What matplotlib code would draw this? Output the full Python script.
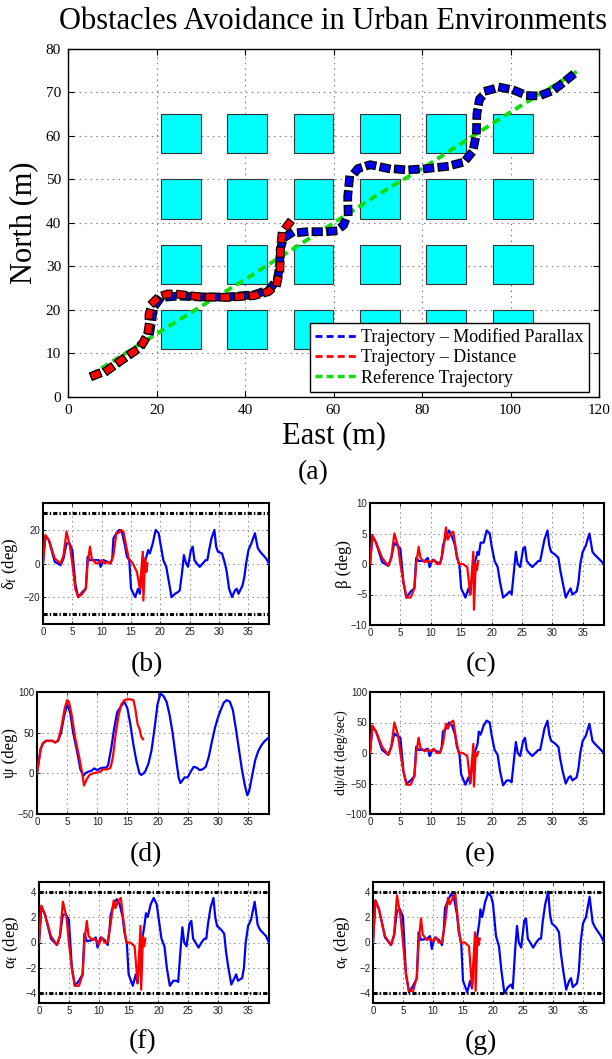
import numpy as np
import matplotlib
matplotlib.use('Agg')
import matplotlib.pyplot as plt
from matplotlib.patches import Rectangle
from matplotlib.lines import Line2D
from matplotlib import patheffects as pe

plt.rcParams['lines.scale_dashes'] = False
plt.rcParams['font.family'] = 'Liberation Serif'
plt.rcParams['mathtext.fontset'] = 'custom'
plt.rcParams['mathtext.rm'] = 'Liberation Serif'
plt.rcParams['mathtext.it'] = 'Liberation Serif:italic'

SERIF = 'Liberation Serif'
SANS = 'Liberation Sans'

# ---- obstacle grid (m) ----
obs_east = [21, 36, 51, 66, 81, 96]
obs_north = [11, 26, 41, 56]
obs_size = 9

# ---- trajectories (east, north) ----
ref_east = [5, 20, 30, 40, 50, 60, 70, 80, 90, 100, 115]
ref_north = [5, 14.5, 20.8, 27, 33.5, 40, 46.5, 52.5, 59, 65.5, 74.8]

mp_east = [6, 9, 12, 15, 17, 18.5, 19, 19.3, 20.5, 22.5, 25, 30, 36, 42, 45.5, 47.3, 47.8, 48,
           48.7, 50.3, 54, 58.5, 60.5, 62.3, 63.3, 63.2, 63.6, 65.5, 68.3, 72, 76.6, 81, 85.6,
           89.5, 91.5, 92.3, 92.4, 93, 95, 97.6, 100.6, 103.7, 106.5, 109.5, 112, 114]
mp_north = [5, 6.2, 8.4, 10.5, 12.5, 15, 18, 20.5, 22.2, 23, 23.2, 23, 23, 23.5, 24.7, 27, 30, 34,
            36.5, 37.6, 38, 38, 38.2, 39.5, 42.5, 46, 50, 52.5, 53.4, 52.6, 52.2, 52.5, 53,
            54, 56.5, 60.5, 65, 68.5, 70.5, 71.2, 70.6, 69.3, 69.2, 70.4, 72.3, 74]

dist_east = [6, 9, 12, 15, 16.8, 18, 18.3, 18.3, 19, 20.5, 22.5, 25, 30, 36, 42, 45.3, 47.2, 47.9,
             48, 48.3, 49.3, 51]
dist_north = [5, 6.2, 8.4, 10.5, 12.2, 14.5, 16.5, 19, 21.5, 23, 23.7, 23.6, 23, 22.9, 23.3, 24.2,
              26, 29.5, 34, 37, 39, 41.3]

# ---- time histories: Modified Parallax (blue) ----
t_mp = [0, 0.4, 1, 2, 3, 3.5, 4, 4.5, 5, 5.5,
        6, 6.7, 7.3, 7.6, 8, 9, 9.5, 9.8, 10.3, 11,
        11.5, 11.8, 12, 12.5, 13, 13.5, 14, 14.3, 14.7, 15,
        15.7, 16.2, 16.5, 16.7, 17.2, 17.7, 17.9, 18.2, 18.7, 19.2,
        19.7, 20, 20.5, 21, 21.4, 21.9, 22.5, 23, 23.3, 23.7,
        24, 24.3, 24.7, 25.2, 25.5, 25.8, 26.2, 26.7, 27.2, 27.7,
        28, 28.3, 28.7, 29.2, 29.5, 29.8, 30.5, 31, 31.3, 31.7,
        32.2, 32.7, 33, 33.3, 34, 34.3, 34.6, 35, 35.5, 36.1,
        36.6, 37, 38, 38.5]
delta_mp = [0, 16, 14, 1, -1, 3, 12, 12, 8, -12,
            -20, -17, -15, 4, 2, 2, 2, -2, 2, 1,
            0, 3, 15, 18, 20, 18, 10, 4, 2, -15,
            -20, -15, -18, -10, 0, 5, 8, 6, 12, 20,
            18, 12, 2, -2, -10, -20, -18, -17, -16, -5,
            5, 1, -2, 8, 10, 2, 0, -2, 0, 2,
            2, 8, 15, 20, 10, 7, 6, 0, -5, -15,
            -20, -16, -15, -18, -13, -8, 0, 8, 12, 18,
            9, 7, 3, 0]
beta_mp = [0, 4.5, 3.5, 0.3, -0.3, 1, 3.5, 3, 2.5, -3,
           -5.5, -4.5, -4, 1, 0.5, 0.5, 1, -0.5, 0.7, 0.3,
           0, 1, 3, 4.5, 5.5, 4.5, 3, 1, 0, -4,
           -5.5, -4, -5, -3, 0, 2, 1.5, 3.5, 3.5, 5.5,
           5, 3, 0.5, -0.5, -3, -5.5, -5, -4.5, -5, -1,
           2, 0, -0.5, 2.5, 2.8, 0.5, 0, -0.5, 0, 0.5,
           0.5, 2, 4, 5.5, 3, 2, 1.5, 1, -1, -3,
           -5.5, -4.5, -4, -5, -4.5, -3, 0, 2, 3, 5,
           2, 1.5, 0.5, 0]
rate_mp = [0, 43, 35, 5, -3, 10, 32, 28, 25, -30,
           -50, -45, -38, 10, 5, 5, 7, -5, 5, 3,
           0, 10, 35, 40, 50, 45, 30, 10, 0, -35,
           -52, -40, -50, -30, 0, 15, 35, 30, 45, 53,
           50, 30, 5, -3, -30, -53, -45, -45, -48, -10,
           18, 0, -5, 20, 25, 5, 0, -5, 0, 5,
           5, 20, 40, 53, 30, 20, 15, 10, -10, -30,
           -50, -40, -38, -45, -40, -25, 0, 20, 28, 48,
           20, 15, 5, 0]
alf_mp = [0, 2.8, 2.2, 0.3, -0.2, 0.5, 2.2, 2.2, 1.8, -2,
          -3.4, -3, -2.5, 0.7, 0.1, 0.2, 0.4, -0.4, 0.4, 0.2,
          -0.2, 1, 2.2, 3, 3.4, 3, 2, 0.8, 0, -2.5,
          -3.4, -2.5, -3.2, -2, 0, 1.5, 2.3, 2, 3, 3.5,
          3, 2, 0.3, -0.3, -2, -3.4, -3, -3, -3.1, -0.5,
          1.2, 0, -0.3, 1.5, 1.7, 0.3, 0, -0.4, 0, 0.3,
          0.3, 1.5, 2.7, 3.5, 2, 1.3, 1, 0.7, -0.7, -2,
          -3.3, -2.8, -2.5, -3, -2.8, -2, 0, 1.3, 1.8, 3.2,
          1.4, 1, 0.5, 0]
alr_mp = [0, 3.3, 2.6, 0.4, -0.2, 0.5, 2.5, 2.6, 2, -2.5,
          -3.9, -3.4, -2.8, 0.8, 0.2, 0.3, 0.5, -0.5, 0.4, 0.2,
          -0.2, 1, 2.7, 3.3, 3.8, 3.5, 2.2, 0.8, 0, -3,
          -3.9, -3, -3.6, -2, 0, 1.5, 2.6, 2, 3.2, 3.9,
          3.6, 3, 0.5, -0.3, -2.2, -4, -3.5, -3.3, -3.6, -0.5,
          1.3, 0, -0.4, 1.7, 1.9, 0.3, 0, -0.4, 0, 0.3,
          0.3, 1.7, 3, 4, 2.2, 1.5, 1.2, 0.8, -0.8, -2.2,
          -3.7, -3, -2.8, -3.5, -3.2, -2.3, 0, 1.5, 2, 3.6,
          1.6, 1.2, 0.5, 0]

t_psi_mp = [0, 0.6, 1, 1.5, 2.5, 3, 3.5, 4, 4.5, 5,
            5.5, 6, 6.7, 7.2, 7.7, 8, 8.5, 9, 9.5, 10,
            10.5, 11, 11.5, 11.8, 12.3, 12.8, 13.3, 14, 14.5, 15,
            15.5, 16, 16.5, 17, 17.3, 17.7, 18, 18.5, 19, 19.5,
            20, 20.5, 21, 21.5, 22, 22.5, 23, 23.5, 23.8, 24.2,
            24.5, 25, 25.5, 26, 26.5, 27, 27.5, 28, 28.5, 29,
            29.5, 30, 30.5, 31, 31.5, 32, 32.5, 33, 33.5, 34,
            34.5, 34.9, 35.2, 35.7, 36.2, 36.7, 37.2, 37.7, 38.3, 38.5]
psi_mp = [0, 30, 37, 40, 40, 38, 40, 50, 70, 85,
          75, 50, 25, 5, -3, 0, 2, 3, 6, 4,
          6, 7, 7, 10, 30, 55, 75, 83, 88, 80,
          60, 35, 15, 0, -2, 0, 3, 12, 28, 55,
          85, 98, 95, 88, 72, 50, 22, -5, -12, -8,
          -5, -5, 2, 8, 7, 4, 5, 8, 20, 38,
          55, 68, 78, 87, 90, 88, 78, 55, 30, 5,
          -15, -27, -22, -3, 16, 27, 34, 39, 43, 44]

# ---- time histories: Distance (red) ----
t_d = [0, 0.4, 1, 2, 3, 3.5, 4, 4.6, 5, 5.5,
       6, 6.7, 7.3, 7.6, 8, 8.3, 9, 9.5, 10, 10.5,
       11, 11.5, 12, 12.5, 12.8, 13.3, 13.7, 14.2, 14.6, 15.3,
       16, 16.5, 17, 17.1, 17.4, 17.6, 17.8]
delta_d = [0, 17, 14, 3, 0, 5, 19, 10, 0, -15,
           -20, -18, -15, 0, 10, 3, 0, 0.5, 2, 0,
           1, 0, 5, 18, 18, 20, 19, 10, 3, 0,
           -5, -15, 7, -22, 3, -5, 0]
beta_d = [0, 4.7, 3.5, 1, -0.3, 1, 5, 3, 0, -3,
          -5.5, -5.5, -4, 0, 2.8, 1, 0.3, 0.5, 0.3, 0.7,
          0, 0, 2, 6, 4, 5, 5.3, 2, 0, 0,
          -0.5, -5, 2, -7.5, 0, -1, 0.5]
rate_d = [0, 45, 35, 10, -3, 10, 50, 30, 0, -30,
          -52, -52, -38, 0, 25, 8, 3, 5, 3, 7,
          0, 0, 15, 48, 40, 50, 53, 20, 0, 0,
          -5, -48, 15, -55, 0, -5, 2]
alf_d = [0, 2.9, 2.2, 0.5, -0.2, 0.5, 3.2, 2, 0, -2,
         -3.4, -3.4, -2.5, 0, 1.7, 0.5, 0.2, 0.3, -0.2, 0.4,
         0, 0, 1.5, 3.3, 2.7, 3.3, 3.5, 1.5, 0, 0,
         -0.3, -3.2, 1.3, -3.7, 0.5, -0.3, 0.3]
alr_d = [0, 3.3, 2.6, 0.5, -0.2, 0.6, 3.7, 2, 0, -2.5,
         -3.8, -3.8, -2.7, 0, 1.9, 0.6, 0.2, 0.3, 0.1, 0.4,
         0, 0, 1.5, 3.5, 3, 3.5, 3.9, 1.5, 0, 0,
         -0.3, -3.5, 0.8, -3.8, 0.4, -0.2, 0.3]

t_psi_d = [0, 0.6, 1, 1.5, 2.5, 3, 3.5, 4, 4.6, 5,
           5.3, 5.8, 6.3, 7, 7.5, 7.8, 8.2, 8.7, 9.3, 10,
           10.5, 11, 11.8, 12.2, 12.6, 13, 13.5, 14, 14.5, 15,
           15.5, 16, 16.3, 16.7, 17, 17.3, 17.6]
psi_d = [0, 30, 37, 40, 40, 38, 40, 55, 80, 90,
         88, 70, 45, 20, 0, -15, -8, -2, 0, 1,
         2, 5, 5, 7, 20, 45, 70, 85, 90, 91,
         91, 90, 80, 60, 55, 45, 42]

delta_limit = 30
alpha_limit = 4

W, H = 612, 1059


def px_rect(left, top, right, bottom):
    return [left / W, 1 - bottom / H, (right - left) / W, (bottom - top) / H]


fig = plt.figure(figsize=(W / 100, H / 100), dpi=100)

# ================= (a) trajectories =================
ax = fig.add_axes(px_rect(68, 49, 599, 397))
for e in obs_east:
    for n in obs_north:
        ax.add_patch(Rectangle((e, n), obs_size, obs_size, facecolor='cyan',
                               edgecolor='#333333', lw=0.8, zorder=2))

ax.plot(ref_east, ref_north, color='#11dd11', lw=2.8, ls=(0, (6, 3.5)), zorder=3)
outline = [pe.Stroke(linewidth=6.3, foreground='black', capstyle='projecting'), pe.Normal()]
ax.plot(mp_east, mp_north, color='#0000ee', lw=4.6, ls=(0, (1.8, 8.7)),
        dash_capstyle='projecting', path_effects=outline, zorder=4)
ax.plot(dist_east, dist_north, color='#ff0000', lw=4.6, ls=(0, (1.8, 8.7)),
        dash_capstyle='projecting', path_effects=outline, zorder=5)

ax.set_xlim(0, 120)
ax.set_ylim(0, 80)
ax.set_xticks(np.arange(0, 121, 20))
ax.set_yticks(np.arange(0, 81, 10))
ax.grid(True, ls=(0, (1, 3)), color='#777777', lw=0.8)
ax.set_axisbelow(True)
ax.tick_params(direction='in', top=True, right=True, length=4, labelsize=11, pad=5)
for s in ax.spines.values():
    s.set_linewidth(1.0)
ax.set_xlabel('East (m)', fontsize=22)
ax.set_ylabel('North (m)', fontsize=22)
ax.xaxis.set_label_coords(0.5, -0.07)
ax.yaxis.set_label_coords(-0.056, 0.5)

handles = [Line2D([], [], color='#0000ee', lw=2, ls=(0, (5, 3))),
           Line2D([], [], color='#ff0000', lw=2, ls=(0, (5, 3))),
           Line2D([], [], color='#11dd11', lw=2.5, ls=(0, (5, 3)))]
labels = ['Trajectory \u2013 Modified Parallax', 'Trajectory \u2013 Distance', 'Reference Trajectory']
leg = ax.legend(handles, labels, loc='lower right', bbox_to_anchor=(0.981, 0.014),
                borderaxespad=0, fontsize=13, fancybox=False, framealpha=1,
                edgecolor='black', handlelength=2.3, handletextpad=0.25,
                labelspacing=0.15, borderpad=0.3)
leg.get_frame().set_linewidth(1.0)
leg.set_zorder(10)

fig.text(333 / W, 1 - 29 / H, 'Obstacles Avoidance in Urban Environments',
         ha='center', va='baseline', fontsize=22, family=SERIF)
fig.text(313 / W, 1 - 473 / H, '(a)', ha='center', va='center', fontsize=20, family=SERIF)


# ================= small panels =================
def panel(rect, tb, yb, tr, yr, ylim, yticks, ylabel, lab_x, caption, cap_xy,
          limit=None, lab_size=12):
    a = fig.add_axes(px_rect(*rect))
    a.plot(tb, yb, color='#0000ff', lw=1.6, zorder=3)
    a.plot(tr, yr, color='#ff0000', lw=1.6, zorder=4)
    if limit is not None:
        for v in (limit, -limit):
            a.axhline(v, color='black', lw=2.2, ls=(0, (3, 1.5, 1, 1.5)), zorder=5)
    a.set_xlim(0, 38.5)
    a.set_ylim(*ylim)
    a.set_xticks(np.arange(0, 36, 5))
    a.set_yticks(yticks)
    a.grid(True, ls=(0, (1, 2.5)), color='#888888', lw=0.7)
    a.set_axisbelow(True)
    a.tick_params(direction='in', top=True, right=True, length=2.5, width=0.6,
                  labelsize=7, pad=2, labelcolor='#222222')
    for lab in a.get_xticklabels() + a.get_yticklabels():
        lab.set_family(SANS)
    for s in a.spines.values():
        s.set_linewidth(1.5)
    a.set_ylabel(ylabel, fontsize=lab_size)
    a.yaxis.set_label_coords(lab_x, 0.5)
    fig.text(cap_xy[0] / W, 1 - cap_xy[1] / H, caption, ha='center', va='center',
             fontsize=20, family=SERIF)
    return a


panel((43, 503, 269, 624), t_mp, delta_mp, t_d, delta_d, (-36, 36), [-20, 0, 20],
      '\u03b4$_\\mathrm{f}$ (deg)', -0.1, '(b)', (147, 665), limit=delta_limit)
panel((370, 503, 604, 625), t_mp, beta_mp, t_d, beta_d, (-10, 10), [-10, -5, 0, 5, 10],
      '\u03b2 (deg)', -0.077, '(c)', (481, 665))
panel((37, 692, 269, 814), t_psi_mp, psi_mp, t_psi_d, psi_d, (-50, 100), [-50, 0, 50, 100],
      '\u03c8 (deg)', -0.08, '(d)', (146, 855))
panel((370, 692, 604, 814), t_mp, rate_mp, t_d, rate_d, (-100, 100), [-100, -50, 0, 50, 100],
      'd\u03c8/dt (deg/sec)', -0.094, '(e)', (480, 855), lab_size=10)
panel((39, 882, 269, 1003), t_mp, alf_mp, t_d, alf_d, (-4.75, 4.75), [-4, -2, 0, 2, 4],
      '\u03b1$_\\mathrm{f}$ (deg)', -0.08, '(f)', (143, 1042), limit=alpha_limit)
panel((373, 882, 604, 1003), t_mp, alr_mp, t_d, alr_d, (-4.75, 4.75), [-4, -2, 0, 2, 4],
      '\u03b1$_\\mathrm{r}$ (deg)', -0.091, '(g)', (481, 1042), limit=alpha_limit)

fig.savefig('out.png', dpi=100)
